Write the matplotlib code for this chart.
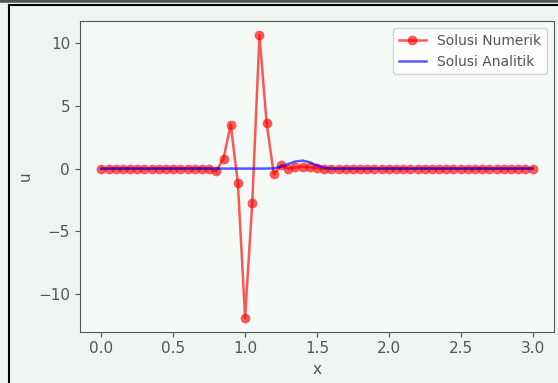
import matplotlib.pyplot as plt
from matplotlib.lines import Line2D

# numerical solution, sampled every 0.05 from 0 to 3
x_num = [round(0.05 * i, 2) for i in range(61)]
u_num = ([0.0] * 16 +
         [-0.2, 0.8, 3.5, -1.17, -11.84, -2.7, 10.6, 3.6, -0.46, 0.28,
          0.0, 0.1, 0.15, 0.1, 0.05] +
         [0.0] * 30)

# analytic solution
x_ana = [0.0, 1.15, 1.2, 1.25, 1.3, 1.35, 1.4, 1.45, 1.5, 1.55, 1.6, 3.0]
u_ana = [0.0, 0.0, 0.02, 0.14, 0.36, 0.56, 0.63, 0.5, 0.25, 0.07, 0.0, 0.0]

grey = '#555555'
plt.rcParams['font.size'] = 11
plt.rcParams['text.color'] = grey
plt.rcParams['axes.labelcolor'] = grey
plt.rcParams['xtick.color'] = grey
plt.rcParams['ytick.color'] = grey
plt.rcParams['axes.edgecolor'] = grey

fig = plt.figure(figsize=(5.58, 3.83), dpi=100, facecolor='#eef5f0')
ax = fig.add_axes([0.143, 0.134, 0.850, 0.811], facecolor='#f6faf7')

ax.plot(x_num, u_num, 'o-', color='red', alpha=0.65, lw=1.8, ms=7, mew=0,
        label='Solusi Numerik')
ax.plot(x_ana, u_ana, '-', color='blue', alpha=0.65, lw=1.8,
        label='Solusi Analitik')

ax.set_xlabel('x')
ax.set_ylabel('u')
ax.set_xticks([0.0, 0.5, 1.0, 1.5, 2.0, 2.5, 3.0])
ax.set_yticks([-10, -5, 0, 5, 10])
ax.legend(loc='upper right', fontsize=10)

# screenshot border
fig.add_artist(Line2D([9 / 558, 9 / 558], [0, 1 - 5 / 383], color='black', lw=1.5))
fig.add_artist(Line2D([9 / 558, 1], [1 - 5 / 383, 1 - 5 / 383], color='black', lw=1.5))
fig.add_artist(Line2D([0, 1], [1, 1], color='#555555', lw=4))

fig.savefig('out.png', dpi=100, facecolor=fig.get_facecolor())
